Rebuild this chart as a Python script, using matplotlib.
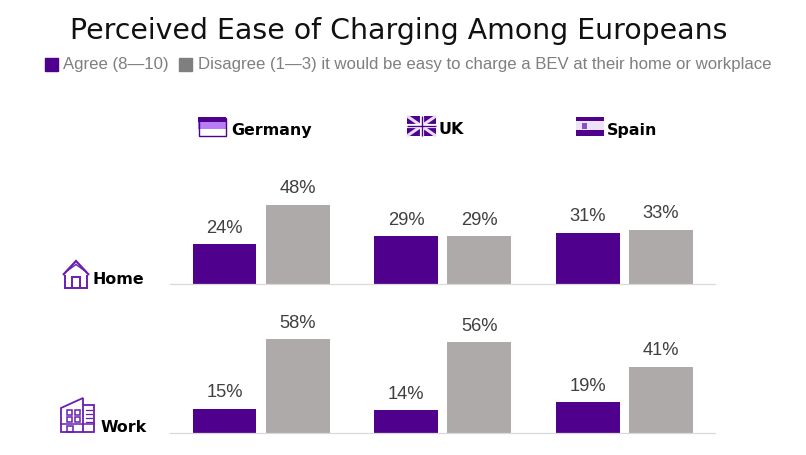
import matplotlib
matplotlib.use('Agg')
import matplotlib.pyplot as plt
from matplotlib.patches import Rectangle, Polygon

countries = ['Germany', 'UK', 'Spain']
home_agree = [24, 29, 31]
home_disagree = [48, 29, 33]
work_agree = [15, 14, 19]
work_disagree = [58, 56, 41]

purple = '#4f008c'
grey = '#aeaaaa'
W, H = 806, 455

fig = plt.figure(figsize=(W / 100, H / 100), dpi=100)

# pixel space overlay for the text and the little icons
ov = fig.add_axes([0, 0, 1, 1])
ov.set_xlim(0, W)
ov.set_ylim(H, 0)
ov.axis('off')


def bars(agree, disagree, base_y, height):
    ax = fig.add_axes([170 / W, (H - base_y) / H, 545 / W, height / H])
    ax.patch.set_alpha(0)
    xs = range(len(countries))
    ax.bar([x - 0.2 for x in xs], agree, 0.352, color=purple)
    ax.bar([x + 0.202 for x in xs], disagree, 0.352, color=grey)
    for x, a, d in zip(xs, agree, disagree):
        ax.text(x - 0.2, a + 4.6, f'{a}%', ha='center', va='bottom', fontsize=13.2,
                color='#404040', family='Liberation Sans')
        ax.text(x + 0.202, d + 4.6, f'{d}%', ha='center', va='bottom', fontsize=13.2,
                color='#404040', family='Liberation Sans')
    ax.set_xlim(-0.5, 2.5)
    ax.set_ylim(0, 60)
    ax.set_xticks([])
    ax.set_yticks([])
    for s in ['top', 'left', 'right']:
        ax.spines[s].set_visible(False)
    ax.spines['bottom'].set_color('#d9d9d9')
    ax.spines['bottom'].set_linewidth(0.9)


bars(home_agree, home_disagree, 284, 99)
bars(work_agree, work_disagree, 433, 97)

ov.text(398.5, 31, 'Perceived Ease of Charging Among Europeans', ha='center', va='center',
        fontsize=20.4, family='DejaVu Sans', color='#111111')

# legend line
ov.add_patch(Rectangle((45, 58), 13, 13, color=purple))
ov.add_patch(Rectangle((179, 58), 13, 13, color='#7f7f7f'))
ov.text(63, 65, 'Agree (8—10)', va='center', fontsize=12.1, color='#7f7f7f', family='Liberation Sans')
ov.text(198, 65, 'Disagree (1—3) it would be easy to charge a BEV at their home or workplace',
        va='center', fontsize=12.1, color='#7f7f7f', family='Liberation Sans')


def label(x, y, s):
    ov.text(x, y, s, va='center', fontsize=11.4, fontweight='bold', color='black', family='DejaVu Sans')


label(231, 130, 'Germany')
label(438, 130, 'UK')
label(607, 130, 'Spain')
label(93, 279, 'Home')
label(101, 428, 'Work')

# germany flag
ov.add_patch(Rectangle((198, 117), 28, 5, color=purple, lw=0))
ov.add_patch(Rectangle((198, 122), 28, 7, color='#b87cf5', lw=0))
ov.add_patch(Rectangle((198.5, 117.5), 27, 18, fc='none', ec=purple, lw=1))

# uk flag
ov.add_patch(Rectangle((407, 116), 29, 20, color=purple, lw=0))
ov.plot([407, 436], [116, 136], color='#e8dcf5', lw=2.2, solid_capstyle='butt')
ov.plot([407, 436], [136, 116], color='#e8dcf5', lw=2.2, solid_capstyle='butt')
ov.plot([421.5, 421.5], [116, 136], color='white', lw=3, solid_capstyle='butt')
ov.plot([407, 436], [126, 126], color='white', lw=3, solid_capstyle='butt')
ov.plot([421.5, 421.5], [116, 136], color=purple, lw=1, solid_capstyle='butt')
ov.plot([407, 436], [126, 126], color=purple, lw=1, solid_capstyle='butt')

# spain flag
ov.add_patch(Rectangle((576, 117), 28, 19, color=purple, lw=0))
ov.add_patch(Rectangle((576, 121), 28, 9, color='#ece4f6', lw=0))
ov.add_patch(Rectangle((582, 123), 5, 6, color='#8a4fc0', lw=0))

# home icon
icon_c = '#6a1fb0'
ov.add_patch(Polygon([(63, 275), (76, 261), (89, 275)], closed=False, fill=False, ec=icon_c, lw=1.6))
ov.add_patch(Polygon([(67, 271), (76, 264.5), (85, 271)], closed=False, fill=False, ec=icon_c, lw=1))
ov.add_patch(Polygon([(65, 275), (65, 288), (87, 288), (87, 275)], closed=False, fill=False, ec=icon_c, lw=1.4))
ov.add_patch(Polygon([(72, 288), (72, 277), (80, 277), (80, 288)], closed=False, fill=False, ec=icon_c, lw=1.4))

# work icon
ov.add_patch(Polygon([(61, 432), (61, 408), (83, 398), (83, 432)], closed=True, fill=False, ec=icon_c, lw=1.3))
ov.add_patch(Polygon([(83, 405), (94, 405), (94, 432), (83, 432)], closed=False, fill=False, ec=icon_c, lw=1.3))
ov.plot([61, 94], [424, 424], color=icon_c, lw=1.1)
ov.add_patch(Rectangle((67, 426), 6, 6, fill=False, ec=icon_c, lw=1.1))
for x in (67, 75):
    for y in (410, 417):
        ov.add_patch(Rectangle((x, y), 5, 4.5, fill=False, ec=icon_c, lw=1.1))
for y in (410, 414, 418, 422):
    ov.plot([86, 92], [y, y], color=icon_c, lw=0.9)

fig.savefig('out.png', dpi=100, facecolor='white')
